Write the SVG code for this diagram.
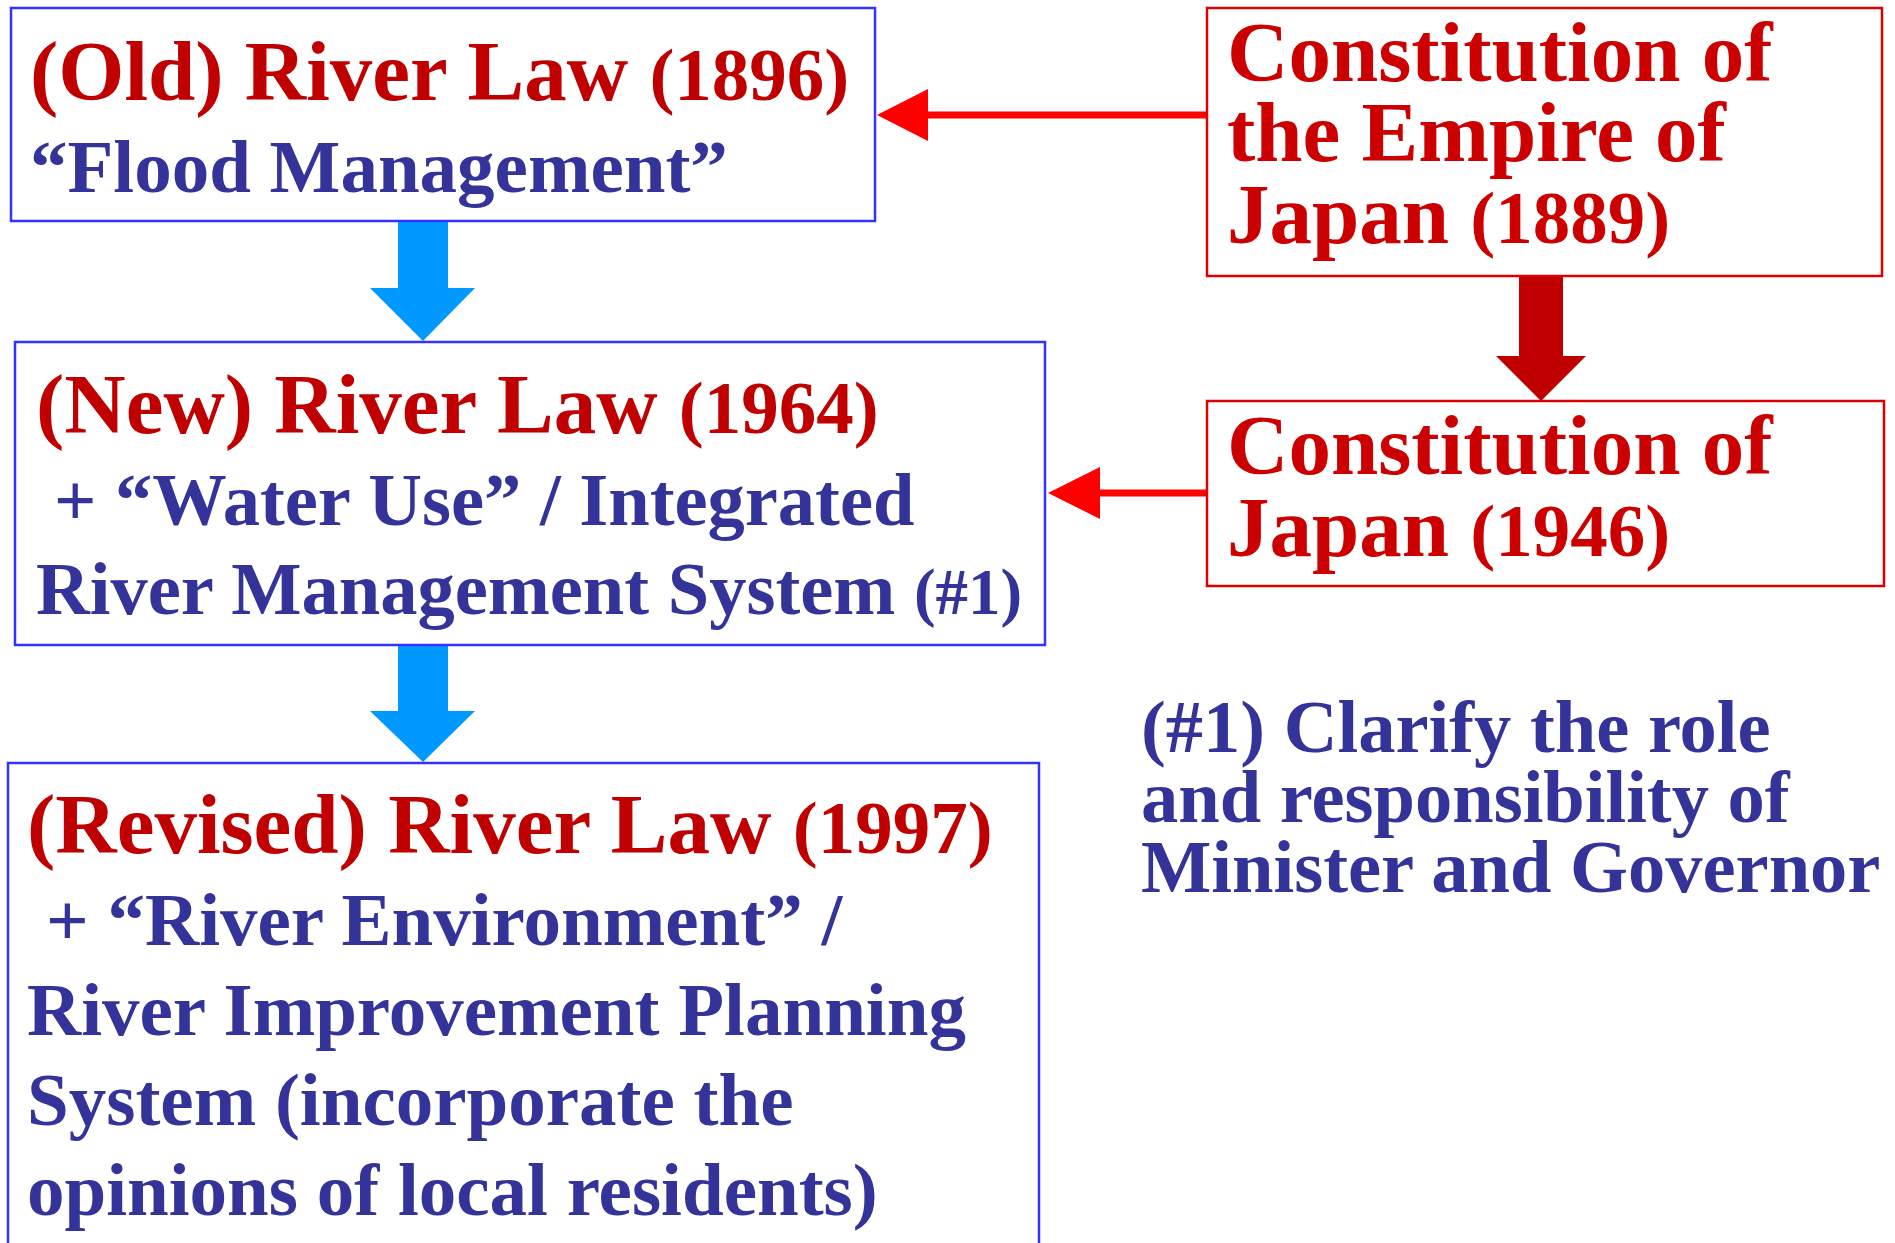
<svg xmlns="http://www.w3.org/2000/svg" width="1895" height="1243" viewBox="0 0 1895 1243">
<style>
  text { font-family: "Liberation Serif", "Times New Roman", serif; font-weight: bold; }
  .law { fill: #c00000; font-size: 85px; }
  .yr { font-size: 75px; }
  .blue { fill: #333399; font-size: 75px; }
  .con { fill: #cc0000; font-size: 85px; }
  .bbox { fill: #ffffff; stroke: #3333ff; stroke-width: 2.5; }
  .rbox { fill: #ffffff; stroke: #dd0000; stroke-width: 2.5; }
  .note { fill: #333399; font-size: 74.5px; }
</style>
<rect width="1895" height="1243" fill="#ffffff"/>
<g id="connectors">
  <polygon points="1207,111.5 928,111.5 928,89 877,115 928,141 928,118.5 1207,118.5" fill="#ff0000"/>
  <polygon points="1207,489.5 1100,489.5 1100,467 1048,493 1100,519 1100,496.5 1207,496.5" fill="#ff0000"/>
  <polygon points="398,222 448,222 448,288 475,288 423,341 370,288 398,288" fill="#0099ff"/>
  <polygon points="398,646 448,646 448,711 475,711 423,762 370,711 398,711" fill="#0099ff"/>
  <polygon points="1519,277 1563,277 1563,356 1586,356 1541,401 1496,356 1519,356" fill="#c00000"/>
</g>
<g id="old-river-law">
  <rect class="bbox" x="11" y="8" width="864" height="213"/>
  <text x="30" y="100" class="law">(Old) River Law <tspan class="yr">(1896)</tspan></text>
  <text x="30" y="192" class="blue">“Flood Management”</text>
</g>
<g id="new-river-law">
  <rect class="bbox" x="15" y="342" width="1030" height="303"/>
  <text x="36" y="433" class="law">(New) River Law <tspan class="yr">(1964)</tspan></text>
  <text x="54" y="525" class="blue" style="font-size:74.5px">+ “Water Use” / Integrated</text>
  <text x="36" y="614" class="blue" style="font-size:74.5px">River Management System <tspan style="font-size:65px">(#1)</tspan></text>
</g>
<g id="revised-river-law">
  <rect class="bbox" x="8" y="763" width="1031" height="500"/>
  <text x="27" y="853" class="law">(Revised) River Law <tspan class="yr">(1997)</tspan></text>
  <text x="46" y="945" class="blue">+ “River Environment” /</text>
  <text x="27" y="1035" class="blue">River Improvement Planning</text>
  <text x="27" y="1125" class="blue">System (incorporate the</text>
  <text x="27" y="1215" class="blue">opinions of local residents)</text>
</g>
<g id="constitution-empire">
  <rect class="rbox" x="1207" y="8" width="675" height="268"/>
  <text x="1227" y="81" class="con">Constitution of</text>
  <text x="1227" y="161" class="con">the Empire of</text>
  <text x="1227" y="243" class="con">Japan <tspan class="yr">(1889)</tspan></text>
</g>
<g id="constitution-japan">
  <rect class="rbox" x="1207" y="401" width="677" height="185"/>
  <text x="1227" y="474" class="con">Constitution of</text>
  <text x="1227" y="556" class="con">Japan <tspan class="yr">(1946)</tspan></text>
</g>
<g id="note">
  <text x="1141" y="752" class="note">(#1) Clarify the role</text>
  <text x="1141" y="822" class="note">and responsibility of</text>
  <text x="1141" y="892" class="note">Minister and Governor</text>
</g>
</svg>
